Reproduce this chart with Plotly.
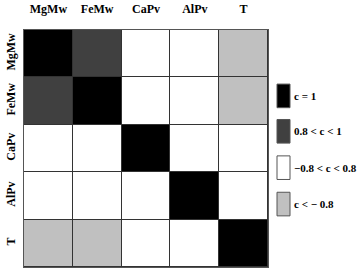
import plotly.graph_objects as go

labels = ["MgMw", "FeMw", "CaPv", "AlPv", "T"]
# estimated correlation coefficients (only their class is visible)
corr = [
    [1.0, 0.9, 0.0, 0.0, -0.9],
    [0.9, 1.0, 0.0, 0.0, -0.9],
    [0.0, 0.0, 1.0, 0.0, 0.0],
    [0.0, 0.0, 0.0, 1.0, 0.0],
    [-0.9, -0.9, 0.0, 0.0, 1.0],
]
legend_labels = ["c = 1", "0.8 < c < 1", "\u22120.8 < c < 0.8", "c < \u2212 0.8"]
legend_colors = ["#000000", "#404040", "#ffffff", "#c0c0c0"]

BLACK, DARK, WHITE, LIGHT = legend_colors
colorscale = [
    [0.0, LIGHT], [0.1, LIGHT],
    [0.1, WHITE], [0.9, WHITE],
    [0.9, DARK], [0.995, DARK],
    [0.995, BLACK], [1.0, BLACK],
]

W, H = 357, 270
L, R, T, B = 24, 268, 27, 268

fig = go.Figure(go.Heatmap(
    z=corr, x=labels, y=labels, zmin=-1, zmax=1,
    colorscale=colorscale, showscale=False,
    xgap=1, ygap=1, hoverinfo="skip",
))

font_family = "Liberation Serif"
fig.update_xaxes(side="top", showgrid=False, zeroline=False, ticks="",
                 ticklabelstandoff=11,
                 showline=True, mirror=True, linecolor="#555555", linewidth=1,
                 tickfont=dict(family=font_family, size=12, color="black", weight="bold"))
fig.update_yaxes(autorange="reversed", showgrid=False, zeroline=False, ticks="",
                 tickangle=-90, ticklabelstandoff=3,
                 showline=True, mirror=True, linecolor="#555555", linewidth=1,
                 tickfont=dict(family=font_family, size=12, color="black", weight="bold"))

pw, ph = R - L, B - T
def px_x(x):
    return (x - L) / pw
def px_y(y):
    return (B - y) / ph

shapes = []
annotations = []
tops = [82, 118, 155, 192]
for lab, col, top in zip(legend_labels, legend_colors, tops):
    shapes.append(dict(type="rect", xref="paper", yref="paper",
                       x0=px_x(277), x1=px_x(290), y0=px_y(top + 24), y1=px_y(top),
                       fillcolor=col, line=dict(color="#555555", width=1)))
    annotations.append(dict(xref="paper", yref="paper", x=px_x(292), y=px_y(top + 12),
                            text=lab, showarrow=False, xanchor="left", yanchor="middle",
                            font=dict(family=font_family, size=11, color="black", weight="bold")))

fig.update_layout(
    width=W, height=H,
    margin=dict(l=L, r=W - R, t=T, b=H - B, pad=0),
    plot_bgcolor="#333333", paper_bgcolor="white",
    shapes=shapes, annotations=annotations,
)

fig.write_html("out.html")
